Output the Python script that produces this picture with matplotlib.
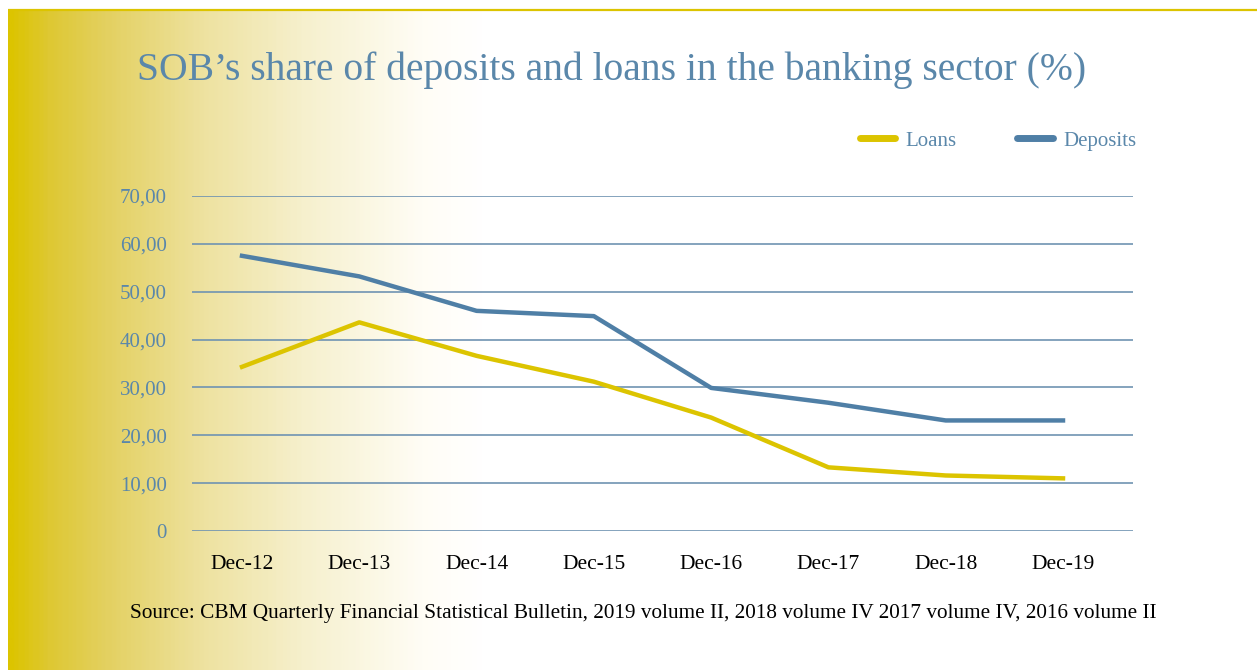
import numpy as np
import matplotlib
matplotlib.use("Agg")
import matplotlib.pyplot as plt
from matplotlib.colors import LinearSegmentedColormap

# SOB share of deposits and loans, year-end values (%)
periods = ['Dec-12', 'Dec-13', 'Dec-14', 'Dec-15', 'Dec-16', 'Dec-17', 'Dec-18', 'Dec-19']
loans = [34.3, 43.6, 36.6, 31.2, 23.7, 13.3, 11.6, 11.0]
deposits = [57.5, 53.2, 46.0, 44.9, 29.9, 26.8, 23.1, 23.1]
yticks = [0, 10, 20, 30, 40, 50, 60, 70]

W, H = 1257, 670
yellow = '#dcc400'
blue = '#4f7fa6'
text_blue = '#5a87aa'

plt.rcParams['font.family'] = ['Liberation Serif', 'DejaVu Serif']

fig = plt.figure(figsize=(W / 100, H / 100), dpi=100)
fig.patch.set_facecolor('white')

# background panel: yellow fading to white from the left edge
bg = fig.add_axes([0, 0, 1, 1], zorder=-10)
bg.set_xlim(0, W)
bg.set_ylim(H, 0)
bg.axis('off')
stops = [(0.0, (220, 196, 0)), (0.03, (222, 200, 50)), (0.075, (227, 208, 95)),
         (0.155, (238, 226, 160)), (0.235, (246, 240, 205)), (0.33, (255, 253, 245)),
         (0.38, (255, 255, 255)), (1.0, (255, 255, 255))]
cmap = LinearSegmentedColormap.from_list('fade', [(p, tuple(c / 255 for c in rgb)) for p, rgb in stops])
grad = np.linspace(0, 1, 600).reshape(1, -1)
bg.imshow(grad, cmap=cmap, aspect='auto', extent=[8, W, H, 10], interpolation='bilinear')
bg.plot([8, W], [10, 10], color=yellow, lw=1.6, solid_capstyle='butt')

ax = fig.add_axes([192 / W, (H - 531) / H, (1133 - 192) / W, (531 - 196) / H])
ax.patch.set_alpha(0)
x = np.arange(len(periods))
ax.plot(x, loans, color=yellow, lw=3.2, label='Loans', solid_joinstyle='round')
ax.plot(x, deposits, color=blue, lw=3.2, label='Deposits', solid_joinstyle='round')

ax.set_xlim(-50 / 117.3, 7 + 70 / 117.3)
ax.set_ylim(0, 70)
ax.set_yticks(yticks)
ax.set_yticklabels(['0' if v == 0 else f'{v:.2f}'.replace('.', ',') for v in yticks])
ax.set_xticks(x)
ax.set_xticklabels(periods)
ax.yaxis.grid(True, color='#6f93b2', lw=1.2)
ax.set_axisbelow(True)
for s in ax.spines.values():
    s.set_visible(False)
ax.tick_params(axis='y', length=0, pad=18, labelsize=15, labelcolor=text_blue)
ax.tick_params(axis='x', length=0, pad=17.5, labelsize=15.5, labelcolor='black')

fig.text(137 / W, 1 - 80 / H, 'SOB\u2019s share of deposits and loans in the banking sector (%)',
         fontsize=28.5, color=text_blue, va='baseline', ha='left')
fig.text(130 / W, 1 - 618 / H,
         'Source: CBM Quarterly Financial Statistical Bulletin, 2019 volume II, 2018 volume IV 2017 volume IV, 2016 volume II',
         fontsize=15.35, color='black', va='baseline', ha='left')

leg = fig.legend(loc='center', bbox_to_anchor=(998 / W, 1 - 141 / H), ncol=2, frameon=False,
                 fontsize=15, handlelength=1.7, handletextpad=0.5, columnspacing=2.9)
for t in leg.get_texts():
    t.set_color(text_blue)
for h in leg.legend_handles:
    h.set_linewidth(5)
    h.set_solid_capstyle('round')

fig.savefig('out.png', dpi=100)
